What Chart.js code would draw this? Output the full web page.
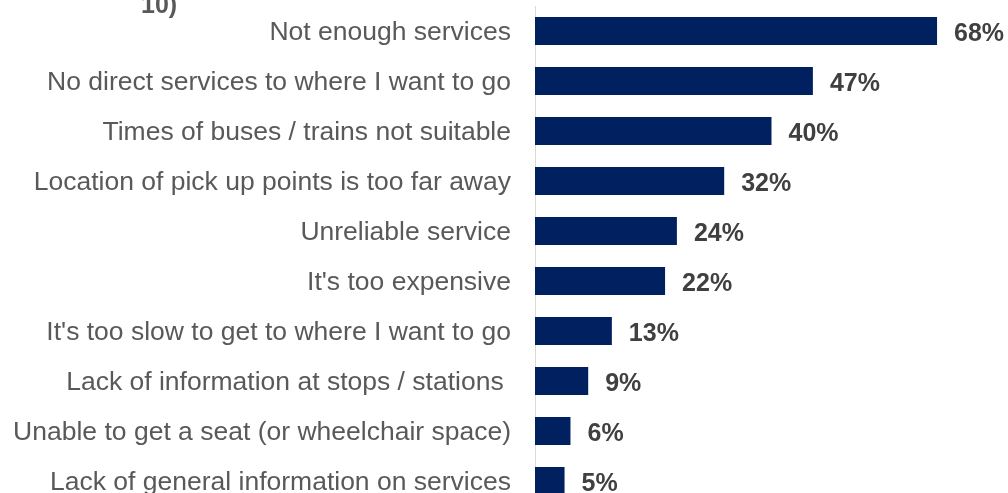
<!DOCTYPE html>
<html>
<head>
<meta charset="utf-8">
<script src="https://cdn.jsdelivr.net/npm/chart.js@4.4.1/dist/chart.umd.min.js"></script>
<style>
  html, body { margin: 0; padding: 0; background: #fff; overflow: hidden; }
  #wrap { position: relative; width: 1008px; height: 512px; }
  #note {
    position: absolute; left: 141px; top: -10px;
    font: bold 25px "Liberation Sans", Arial, sans-serif; color: #595959;
  }
</style>
</head>
<body>
<div id="wrap">
  <div id="note">10)</div>
  <canvas id="chart"></canvas>
</div>
<script>
const reasons = [
  "Not enough services",
  "No direct services to where I want to go",
  "Times of buses / trains not suitable",
  "Location of pick up points is too far away",
  "Unreliable service",
  "It's too expensive",
  "It's too slow to get to where I want to go",
  "Lack of information at stops / stations ",
  "Unable to get a seat (or wheelchair space)",
  "Lack of general information on services"
];
const shares = [68, 47, 40, 32, 24, 22, 13, 9, 6, 5];

// percentage label just past the end of each bar
const valueLabels = {
  id: 'valueLabels',
  afterDatasetsDraw(chart) {
    const ctx = chart.ctx;
    const meta = chart.getDatasetMeta(0);
    ctx.save();
    ctx.font = 'bold 25px "Liberation Sans", Arial, sans-serif';
    ctx.fillStyle = '#404040';
    ctx.textAlign = 'left';
    ctx.textBaseline = 'middle';
    meta.data.forEach((bar, i) => {
      ctx.fillText(shares[i] + '%', bar.x + 17, bar.y + 3);
    });
    ctx.restore();
  }
};

new Chart(document.getElementById('chart'), {
  type: 'bar',
  data: {
    labels: reasons,
    datasets: [{
      data: shares,
      backgroundColor: '#002060',
      categoryPercentage: 1,
      barPercentage: 0.56
    }]
  },
  options: {
    indexAxis: 'y',
    responsive: true,
    maintainAspectRatio: false,
    animation: false,
    layout: { padding: { top: 6, bottom: 6, left: 0, right: 0 } },
    plugins: { legend: { display: false }, tooltip: { enabled: false } },
    scales: {
      x: { display: false, min: 0, max: 80 },
      y: {
        // fixed label column; no extra space above/below the bars
        afterFit(scale) {
          scale.width = 535;
          scale.paddingTop = 0;
          scale.paddingBottom = 0;
        },
        grid: { display: false, drawTicks: false },
        border: { display: true, color: '#d9d9d9', width: 1 },
        ticks: {
          padding: 24,
          labelOffset: 2,
          color: '#595959',
          font: { family: '"Liberation Sans", Arial, sans-serif', size: 26.5 }
        }
      }
    }
  },
  plugins: [valueLabels]
});
</script>
</body>
</html>
